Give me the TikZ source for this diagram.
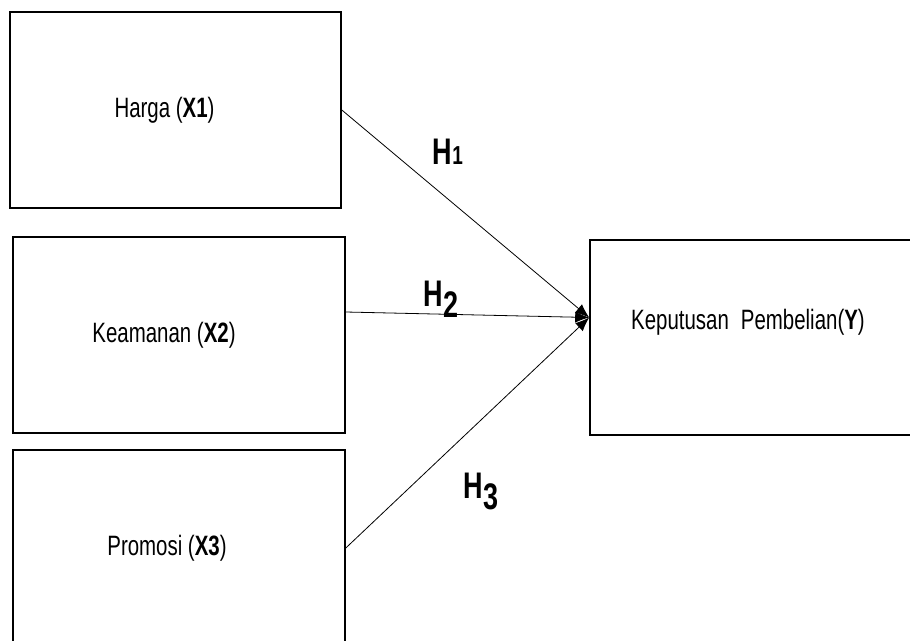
\documentclass[tikz,border=0pt]{standalone}
\usepackage{fontspec}
\setmainfont{Liberation Sans}[FakeStretch=0.73]
\usetikzlibrary{arrows.meta}

\begin{document}
\begin{tikzpicture}[x=1pt, y=-1pt,
  box/.style={draw, line width=1.6pt, minimum width=331pt, minimum height=196pt,
    inner sep=0pt, font=\fontsize{28}{32}\selectfont},
  arr/.style={-{Latex[length=14pt,width=11pt]}, line width=0.8pt},
  hyp/.style={font=\fontsize{37}{38}\selectfont\bfseries, inner sep=0pt}
]
  \useasboundingbox (0,0) rectangle (910,640);
  \clip (0,0) rectangle (910,640);

  \node[box] (harga) at (175.5,110) {Harga (\textbf{X1})\hspace*{22pt}};
  \node[box, minimum width=332pt] (keamanan) at (179,335) {Keamanan (\textbf{X2})\hspace*{30pt}};
  \node[box, minimum width=332pt] (promosi) at (179,548) {Promosi (\textbf{X3})\hspace*{24pt}};
  \node[box, minimum width=330pt, minimum height=195pt, text depth=36pt]
    (keputusan) at (755,337.5) {Keputusan\hspace{12pt}Pembelian(\textbf{Y})\hspace*{14pt}};

  % hypotheses
  \coordinate (hub) at ([yshift=20pt]keputusan.west);
  \draw[arr] (harga.east) -- (hub);
  \draw[arr] ([yshift=23pt]keamanan.east) -- (hub);
  \draw[arr] (promosi.east) -- (hub);

  \node[hyp] (h1) at (448,152) {H{\fontsize{26}{26}\selectfont 1}};
  \node[hyp] (h2) at (441,299) {H\raisebox{-11pt}{2}};
  \node[hyp] (h3) at (481,491) {H\raisebox{-11pt}{3}};
\end{tikzpicture}
\end{document}
